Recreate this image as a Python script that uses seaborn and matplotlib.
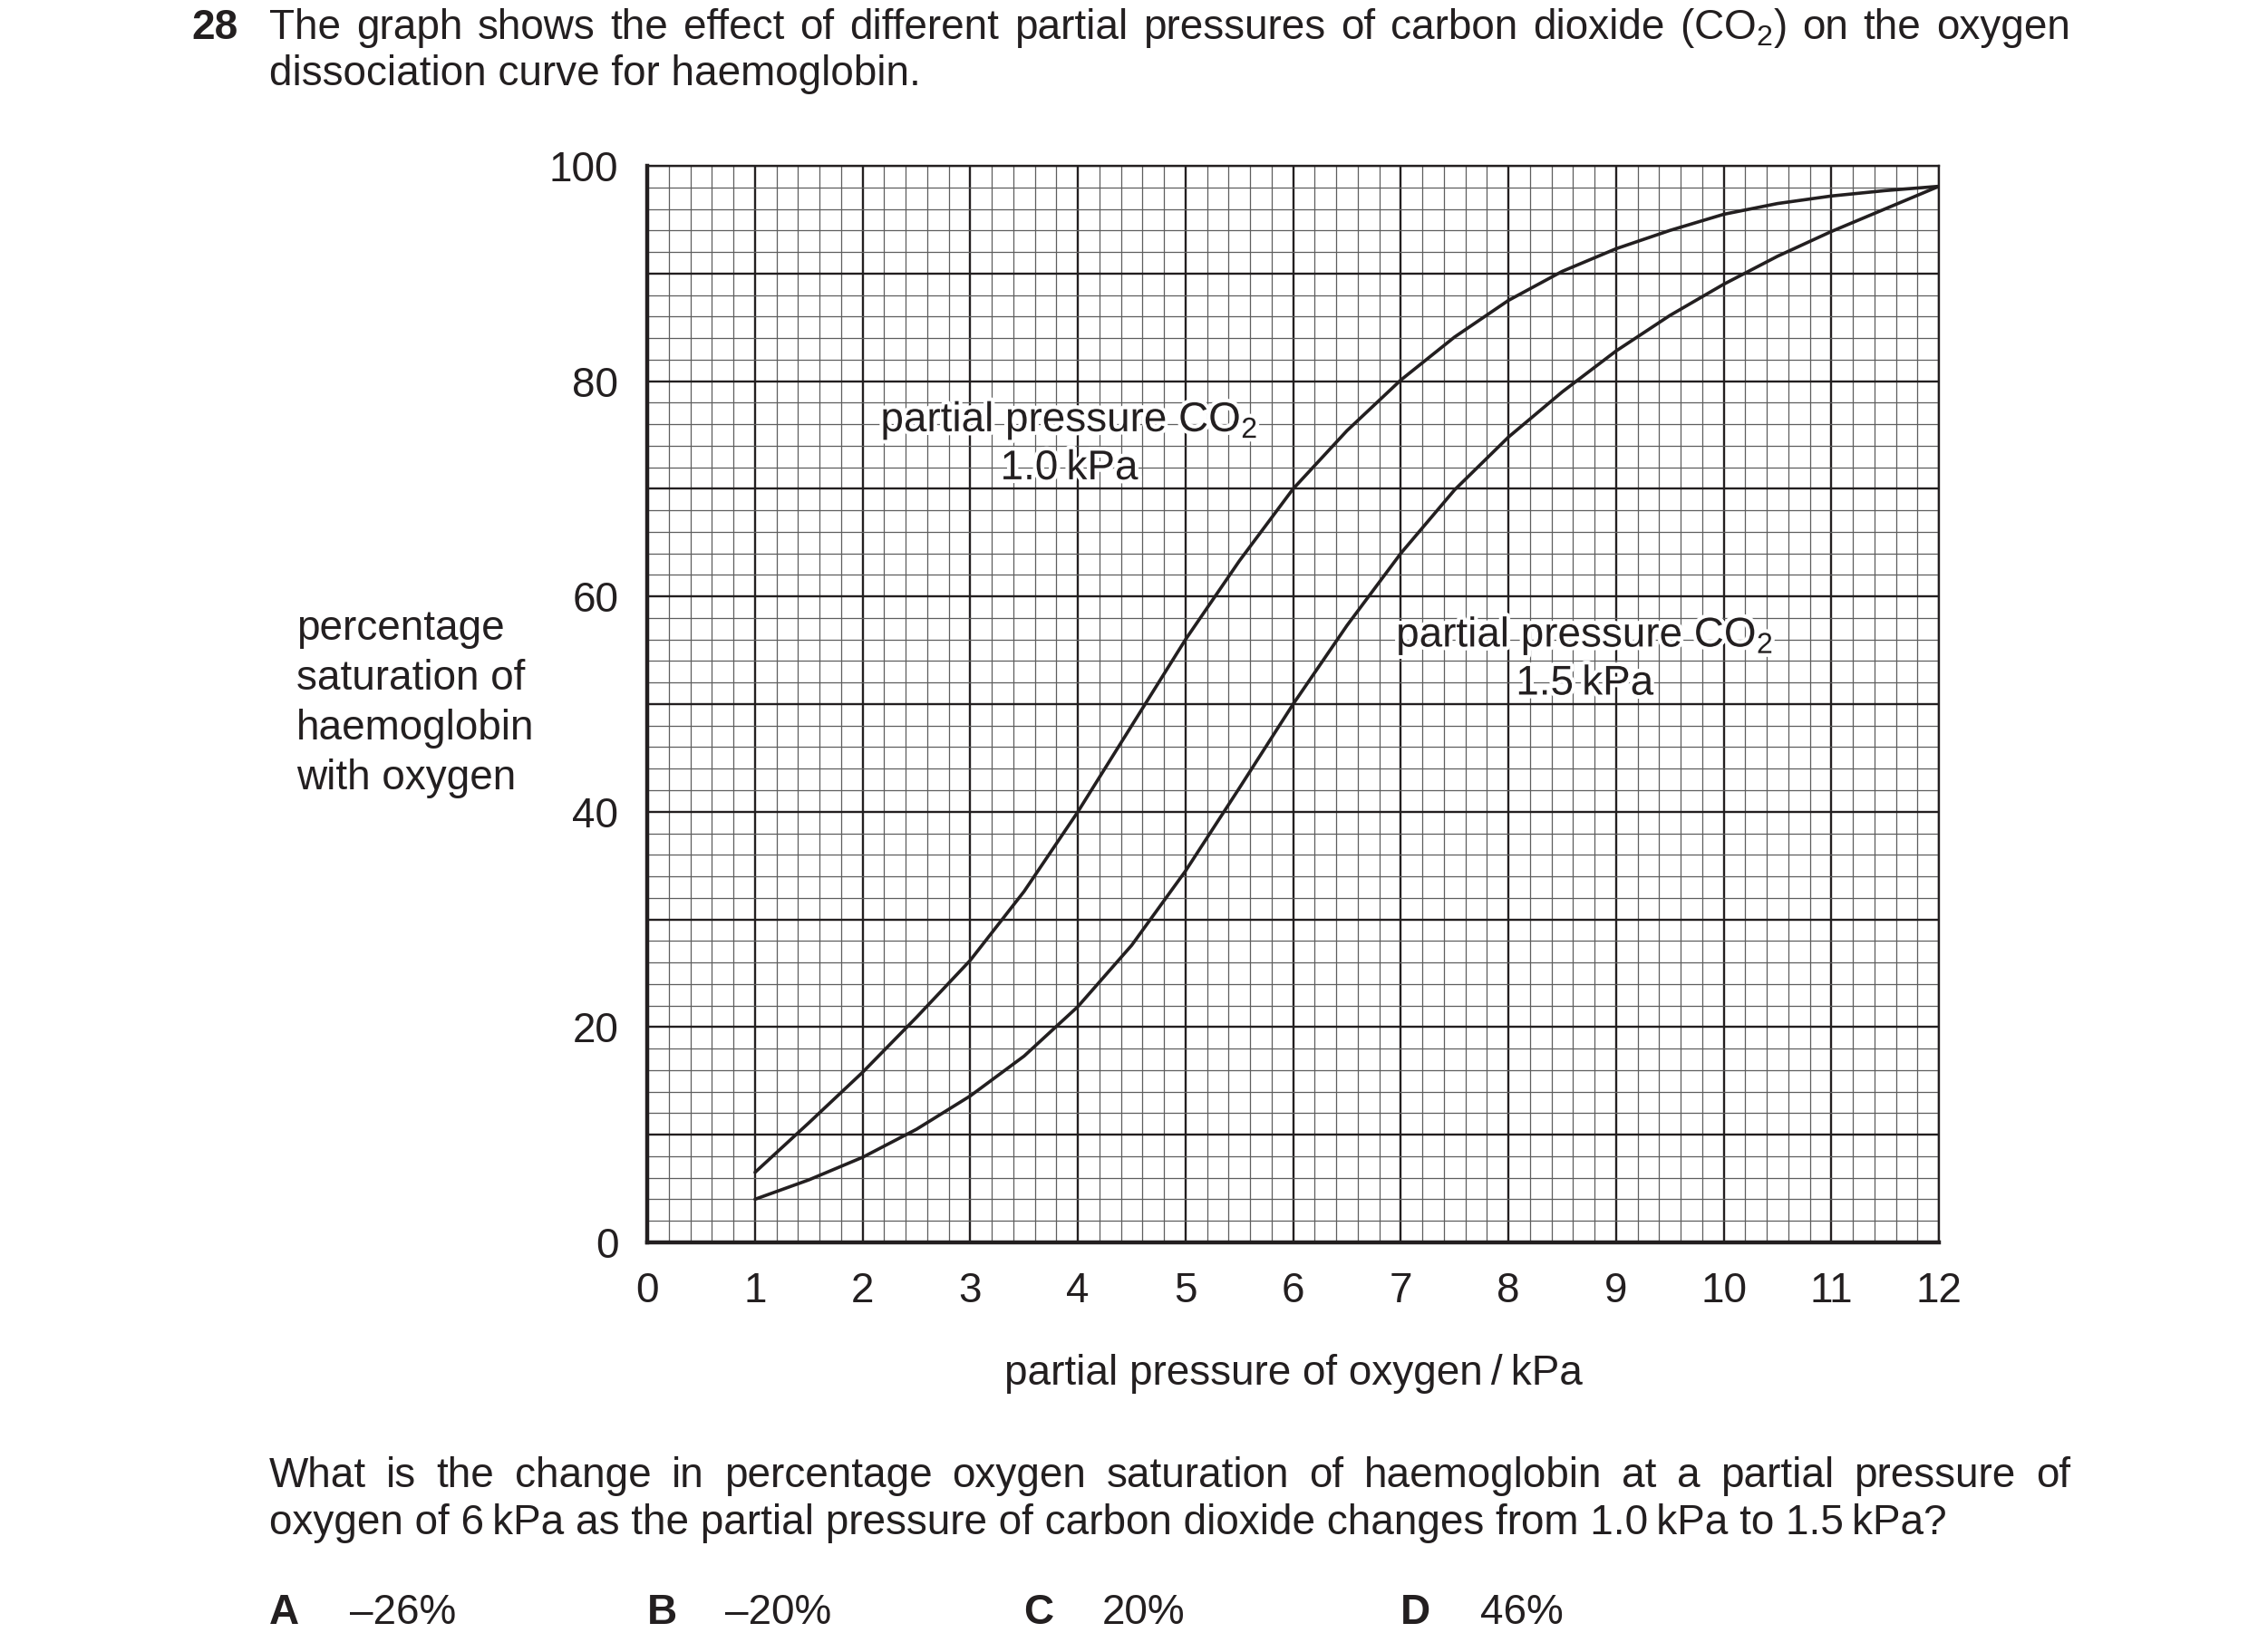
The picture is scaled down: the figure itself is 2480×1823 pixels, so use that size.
import matplotlib
matplotlib.use('Agg')
import matplotlib.pyplot as plt
import matplotlib.patheffects as pe
from matplotlib.ticker import MultipleLocator
import seaborn as sns
import pandas as pd
import numpy as np

# Values
po2_kpa = [1, 1.5, 2, 2.5, 3, 3.5, 4, 4.5, 5, 5.5, 6, 6.5,
           7, 7.5, 8, 8.5, 9, 9.5, 10, 10.5, 11, 11.5, 12]
sat_co2_1_0 = [6.5, 11.1, 15.8, 20.9, 26.2, 32.6, 40.0, 48.0, 56.0, 63.3, 70.0, 75.4,
               80.1, 84.1, 87.5, 90.2, 92.3, 94.0, 95.5, 96.5, 97.2, 97.7, 98.1]
sat_co2_1_5 = [4.0, 5.8, 7.9, 10.5, 13.6, 17.3, 21.9, 27.6, 34.5, 42.2, 50.0, 57.3,
               64.0, 69.9, 74.8, 79.0, 82.8, 86.1, 89.0, 91.6, 93.9, 96.0, 98.1]
co2_levels = ['1.0', '1.5']

x_ticks = list(range(0, 13))
y_ticks = list(range(0, 101, 10))
y_labelled = [0, 20, 40, 60, 80, 100]

INK = '#231f20'
FS = 33

sns.set_theme(style='white')
plt.rcParams['font.family'] = ['Liberation Sans', 'DejaVu Sans']
plt.rcParams['text.color'] = INK

df = pd.DataFrame({
    'po2': po2_kpa * 2,
    'sat': sat_co2_1_0 + sat_co2_1_5,
    'co2': [co2_levels[0]] * len(po2_kpa) + [co2_levels[1]] * len(po2_kpa),
})

fig = plt.figure(figsize=(24.8, 18.23), dpi=100)
ax = fig.add_axes([0.288, 0.248, 0.5745, 0.6516])

sns.lineplot(data=df, x='po2', y='sat', hue='co2', palette=[INK, INK],
             estimator=None, legend=False, linewidth=2.6, ax=ax)
for line in ax.get_lines():
    line.set_solid_joinstyle('round')

ax.set_xlim(0, 12)
ax.set_ylim(0, 100)
ax.set_xticks(x_ticks)
ax.set_yticks(y_ticks)
ax.set_yticklabels([str(v) if v in y_labelled else '' for v in y_ticks])
ax.xaxis.set_minor_locator(MultipleLocator(0.2))
ax.yaxis.set_minor_locator(MultipleLocator(2))

# graph paper
ax.grid(which='minor', color='#5e5e5e', linewidth=0.9)
ax.grid(which='major', color=INK, linewidth=1.7)
ax.set_axisbelow(True)

ax.tick_params(which='minor', length=0)
ax.tick_params(which='major', direction='out', length=19, width=1.8,
               color=INK, labelsize=FS, labelcolor=INK, pad=4)
for v, t in zip(y_ticks, ax.yaxis.get_major_ticks()):
    if v not in y_labelled:
        t.tick1line.set_visible(False)

for side in ['left', 'bottom']:
    ax.spines[side].set_linewidth(3.2)
    ax.spines[side].set_color(INK)
for side in ['top', 'right']:
    ax.spines[side].set_linewidth(1.7)
    ax.spines[side].set_color(INK)

ax.set_xlabel('')
ax.set_ylabel('')

# curve labels with a white halo over the grid
halo = [pe.withStroke(linewidth=6, foreground='white')]
ax.text(3.92, 74.2, 'partial pressure CO$\\mathregular{_2}$\n1.0\u2009kPa',
        ha='center', va='center', fontsize=FS, color=INK, path_effects=halo)
ax.text(8.71, 54.2, 'partial pressure CO$\\mathregular{_2}$\n1.5\u2009kPa',
        ha='center', va='center', fontsize=FS, color=INK, path_effects=halo)


def justified(text, x0, x1, y, **kw):
    """Spread the words of one line evenly between x0 and x1"""
    words = text.split(' ')
    renderer = fig.canvas.get_renderer()
    arts = [fig.text(0, y, w, ha='left', va='baseline', fontsize=FS, **kw) for w in words]
    widths = [a.get_window_extent(renderer).width / fig.bbox.width for a in arts]
    gap = (x1 - x0 - sum(widths)) / (len(words) - 1)
    x = x0
    for a, w in zip(arts, widths):
        a.set_x(x)
        x += w + gap


left_txt = 297 / 2480
right_txt = 2284 / 2480

fig.text(211 / 2480, 0.9765, '28', fontsize=FS, fontweight='bold', va='baseline')
justified('The graph shows the effect of different partial pressures of carbon dioxide '
          '(CO$\\mathregular{_2}$) on the oxygen', left_txt, right_txt, 0.9765)
fig.text(left_txt, 0.9486, 'dissociation curve for haemoglobin.', fontsize=FS, va='baseline')

ylabel_lines = ['percentage', 'saturation of', 'haemoglobin', 'with oxygen']
for i, line in enumerate(ylabel_lines):
    fig.text(327 / 2480, 0.6128 - i * 0.0302, line, fontsize=FS, va='baseline')

fig.text(0.5754, 0.1620, 'partial pressure of oxygen\u2009/\u2009kPa',
         fontsize=FS, ha='center', va='baseline')

justified('What is the change in percentage oxygen saturation of haemoglobin at a '
          'partial pressure of', left_txt, right_txt, 0.1000)
fig.text(left_txt, 0.0713, 'oxygen of 6\u2009kPa as the partial pressure of carbon dioxide '
         'changes from 1.0\u2009kPa to 1.5\u2009kPa?', fontsize=FS, va='baseline')

option_letters = ['A', 'B', 'C', 'D']
option_values = ['\u201326%', '\u201320%', '20%', '46%']
letter_x = [297, 714, 1129, 1545]
value_x = [386, 800, 1216, 1633]
for letter, value, lx, vx in zip(option_letters, option_values, letter_x, value_x):
    fig.text(lx / 2480, 0.0172, letter, fontsize=FS, fontweight='bold', va='baseline')
    fig.text(vx / 2480, 0.0172, value, fontsize=FS, va='baseline')

plt.savefig('out.png', dpi=100, facecolor='white')
plt.close()
